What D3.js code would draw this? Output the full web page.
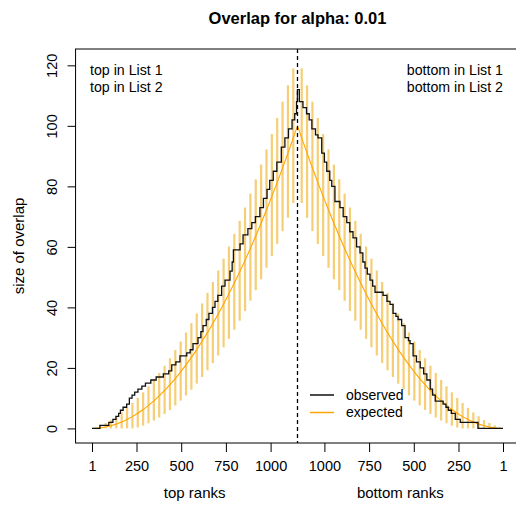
<!DOCTYPE html>
<html><head><meta charset="utf-8">
<script src="https://cdn.jsdelivr.net/npm/d3@7"></script>
<style>body{margin:0;background:#fff}svg{display:block}text{font-family:"Liberation Sans",Arial,sans-serif}</style>
</head><body><svg id="c" width="516" height="506"></svg>
<script>
// ---- data ----
const N = 1150; // ranks per side
const title = "Overlap for alpha: 0.01";
const rankTicks = [1, 250, 500, 750, 1000];
const yTicks = [0, 20, 40, 60, 80, 100, 120];
const barRanks = [17,47,77,107,137,167,197,227,257,287,317,347,377,407,437,467,497,527,557,587,617,647,677,707,737,767,797,827,857,887,917,947,977,1007,1037,1067,1097,1127];
const expectedVals = [0.02,0.17,0.45,0.87,1.42,2.11,2.93,3.9,4.99,6.23,7.6,9.1,10.75,12.53,14.44,16.49,18.68,21.0,23.46,26.05,28.79,31.65,34.66,37.8,41.07,44.48,48.03,51.72,55.54,59.49,63.58,67.81,72.18,76.68,81.31,86.08,90.99,96.04];
const lowerVals = [0,0,0,0,0,0,0,0,0.3,0.9,1.7,2.6,3.6,4.8,6.1,7.6,9.2,10.9,12.8,14.8,17.0,19.2,21.6,24.1,26.8,29.6,32.6,35.6,38.8,42.2,45.7,49.3,53.1,57.0,61.0,65.2,69.6,74.5];
const upperVals = [0.3,1.0,1.8,2.8,4.0,5.3,6.8,8.4,10.1,11.9,13.9,16.0,18.3,20.7,23.2,25.9,28.7,31.7,34.8,38.0,41.3,44.8,48.4,52.2,56.1,60.1,64.3,68.6,73.0,77.6,82.3,87.2,92.2,97.3,102.6,108.0,113.4,119.0];
// observed overlap, step changes [rank, value]
const observedTop = [[1,0],[45,1],[95,2],[118,3],[135,4],[150,5],[160,6],[175,7],[195,8],[210,10],[225,11],[240,12],[258,13],[280,14],[300,15],[330,16],[360,17],[400,18],[430,19],[447,21],[470,22],[493,24],[531,25],[550,26],[566,28],[594,30],[610,32],[622,34],[640,36],[655,38],[675,40],[689,42],[705,44],[726,47],[745,49],[773,52],[785,55],[792,59],[829,61],[846,64],[873,66],[895,68],[915,70],[940,73],[960,76],[980,79],[995,82],[1015,85],[1035,88],[1060,93],[1080,96],[1100,99],[1120,102],[1135,104],[1145,108],[1150,112]];
const observedBottom = [[1150,112],[1140,108],[1120,106],[1100,104],[1085,102],[1070,99],[1050,97],[1036,96],[1015,91],[1000,88],[987,85],[970,82],[959,80],[941,75],[913,73],[895,70],[875,68],[858,65],[840,63],[820,60],[801,58],[785,55],[773,53],[760,51],[745,49],[730,47],[717,45],[672,44],[650,42],[633,41],[616,38],[600,37],[588,36],[568,34],[549,30],[530,29],[521,28],[504,24],[485,22],[464,20],[445,18],[427,16],[408,13],[395,11],[380,9],[336,8],[320,7],[307,6],[290,5],[268,3],[240,2],[141,0],[1,0]];
const cornerLeft = ["top in List 1", "top in List 2"];
const cornerRight = ["bottom in List 1", "bottom in List 2"];
const legendLabels = ["observed", "expected"];

// ---- layout ----
const svg = d3.select("#c");
const pos = (r, side) => side === 0 ? r : 2 * N + 1 - r;
const x = d3.scaleLinear().domain([1, 2 * N]).range([92, 503]);
const xPad = (2 * N - 1) * 0.04;
const y = d3.scaleLinear().domain([-4.82, 125.4]).range([443, 49]);
const box = {l: x(1 - xPad), r: x(2 * N + xPad), t: y(125.4), b: y(-4.82)};
const barCol = "#f4c65f", expCol = "#ffa500";

// error bars both sides
[0, 1].forEach(side => {
  svg.append("g").selectAll("line").data(barRanks).join("line")
    .attr("x1", (d) => x(pos(d, side))).attr("x2", (d) => x(pos(d, side)))
    .attr("y1", (d, i) => y(lowerVals[i])).attr("y2", (d, i) => y(upperVals[i]))
    .attr("stroke", barCol).attr("stroke-width", 2.2).attr("opacity", 0.85);
});
// expected line
const expPts = barRanks.map((r, i) => [pos(r, 0), expectedVals[i]])
  .concat([[N + 0.5, 100.0]])
  .concat(barRanks.map((r, i) => [pos(r, 1), expectedVals[i]]).reverse());
svg.append("path").datum(expPts)
  .attr("d", d3.line().x(d => x(d[0])).y(d => y(d[1])))
  .attr("fill", "none").attr("stroke", expCol).attr("stroke-width", 1.1);
// observed step line
const obsPts = observedTop.map(d => [pos(d[0], 0), d[1]])
  .concat(observedBottom.map(d => [pos(d[0], 1), d[1]]));
svg.append("path").datum(obsPts)
  .attr("d", d3.line().curve(d3.curveStepAfter).x(d => x(d[0])).y(d => y(d[1])))
  .attr("fill", "none").attr("stroke", "#111").attr("stroke-width", 1.3);
// center dashed line
svg.append("line").attr("x1", x(N + 0.5)).attr("x2", x(N + 0.5))
  .attr("y1", box.t).attr("y2", box.b)
  .attr("stroke", "#000").attr("stroke-width", 1.3).attr("stroke-dasharray", "4,3");
// box
svg.append("rect").attr("x", box.l).attr("y", box.t)
  .attr("width", box.r - box.l).attr("height", box.b - box.t)
  .attr("fill", "none").attr("stroke", "#000").attr("stroke-width", 1);

// x axis
const xTickVals = rankTicks.map(r => pos(r, 0)).concat(rankTicks.map(r => pos(r, 1)));
const xTickLabels = rankTicks.concat(rankTicks);
const xAxis = d3.axisBottom(x).tickValues(xTickVals)
  .tickFormat((d, i) => xTickLabels[i]).tickSize(9).tickPadding(9);
const gx = svg.append("g").attr("transform", `translate(0,${box.b})`).call(xAxis);
gx.select(".domain").remove();
gx.selectAll("text").attr("font-size", 14.5).attr("fill", "#000").attr("font-family", "Liberation Sans, Arial, sans-serif");
gx.selectAll("line").attr("stroke", "#000");
svg.append("text").attr("x", x((1 + N) / 2)).attr("y", 498).attr("text-anchor", "middle")
  .attr("font-size", 15).text("top ranks");
svg.append("text").attr("x", x(pos((1 + N) / 2, 1))).attr("y", 498).attr("text-anchor", "middle")
  .attr("font-size", 15).text("bottom ranks");

// y axis
const yAxis = d3.axisLeft(y).tickValues(yTicks).tickSize(8).tickFormat(d3.format("d"));
const gy = svg.append("g").attr("transform", `translate(${box.l},0)`).call(yAxis);
gy.select(".domain").remove();
gy.selectAll("line").attr("stroke", "#000");
gy.selectAll("text").attr("font-size", 14.5).attr("fill", "#000")
  .attr("font-family", "Liberation Sans, Arial, sans-serif")
  .attr("text-anchor", "middle").attr("dy", null).attr("x", null)
  .attr("transform", "translate(-24,0) rotate(-90)").attr("dy", "0.35em");
svg.append("text").attr("transform", `translate(19,${(box.t + box.b) / 2}) rotate(-90)`)
  .attr("text-anchor", "middle").attr("dy", "0.35em").attr("font-size", 15).text("size of overlap");

// title
svg.append("text").attr("x", x(N + 0.5)).attr("y", 24).attr("text-anchor", "middle")
  .attr("font-size", 16.5).attr("font-weight", "bold").text(title);

// corner texts
cornerLeft.forEach((t, i) => svg.append("text").attr("x", 90).attr("y", 75 + i * 17)
  .attr("font-size", 14.2).text(t));
cornerRight.forEach((t, i) => svg.append("text").attr("x", 503).attr("y", 75 + i * 17)
  .attr("text-anchor", "end").attr("font-size", 14.2).text(t));

// legend
const legCols = ["#111", "#ffa500"];
legendLabels.forEach((t, i) => {
  const ly = 395 + i * 17.5;
  svg.append("line").attr("x1", 310).attr("x2", 334).attr("y1", ly).attr("y2", ly)
    .attr("stroke", legCols[i]).attr("stroke-width", 1.5);
  svg.append("text").attr("x", 346).attr("y", ly).attr("dy", "0.35em")
    .attr("font-size", 14).text(t);
});
</script></body></html>
